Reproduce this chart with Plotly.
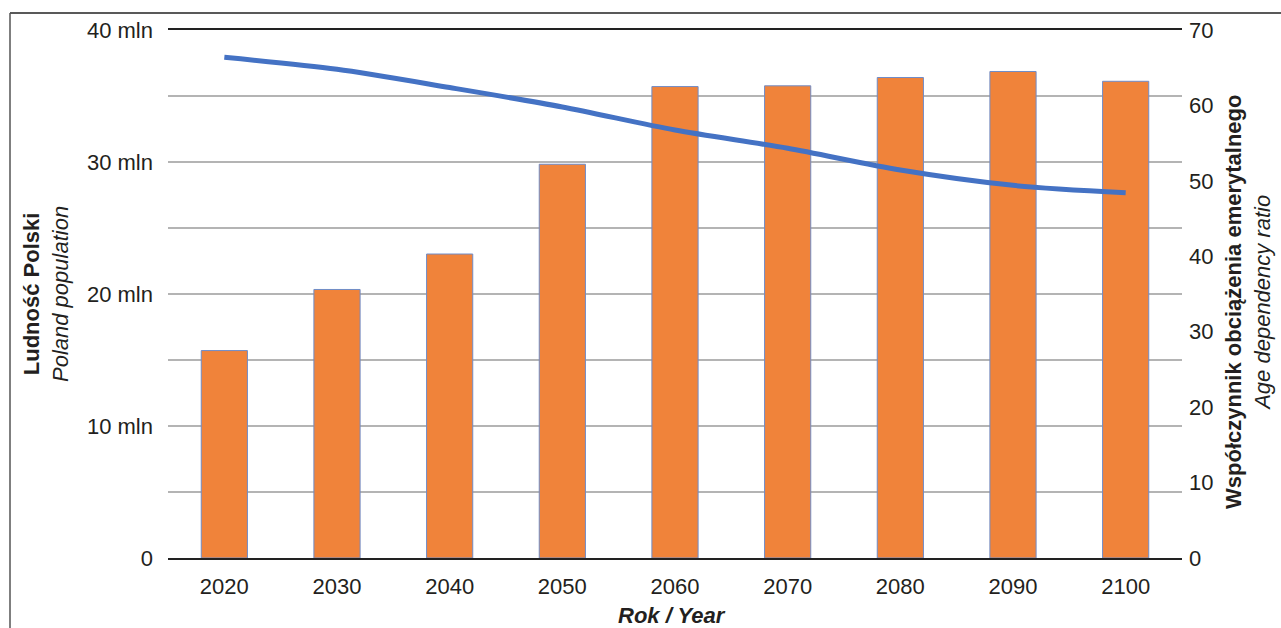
import plotly.graph_objects as go

years = ["2020", "2030", "2040", "2050", "2060", "2070", "2080", "2090", "2100"]
dependency_ratio = [27.5, 35.6, 40.3, 52.2, 62.5, 62.6, 63.7, 64.5, 63.2]
population_mln = [37.93, 37.02, 35.64, 34.17, 32.42, 31.04, 29.39, 28.23, 27.67]

left_tickvals = [0, 5, 10, 15, 20, 25, 30, 35, 40]
left_ticktext = ["0", "", "10 mln", "", "20 mln", "", "30 mln", "", "40 mln"]
right_tickvals = [0, 10, 20, 30, 40, 50, 60, 70]

FONT = "Liberation Sans, Arial, sans-serif"
TXT = "#231f20"
FS = 22

fig = go.Figure()
fig.add_trace(go.Bar(
    x=years, y=dependency_ratio, yaxis="y",
    marker=dict(color="#F0833A", line=dict(color="#6f8cc8", width=1)),
    width=0.41,
))
fig.add_trace(go.Scatter(
    x=years, y=population_mln, yaxis="y2", mode="lines",
    line=dict(color="#4472C4", width=5, shape="spline", smoothing=0.8),
))

L, R, T, B = 168, 99, 30, 70
W, H = 1281, 628
pw, ph = W - L - R, H - T - B
def px(x):
    return (x - L) / pw
def py(y):
    return (H - B - y) / ph

fig.update_layout(
    width=W, height=H,
    margin=dict(l=L, r=R, t=T, b=B),
    paper_bgcolor="white", plot_bgcolor="white",
    showlegend=False,
    font=dict(family=FONT, size=FS, color=TXT),
    bargap=0.59,
    xaxis=dict(
        type="category", showgrid=False, showline=True, mirror=True,
        linecolor="#222222", linewidth=1.5, ticks="", tickfont=dict(size=FS, color=TXT),
        ticklabelstandoff=8,
    ),
    yaxis=dict(
        side="right", range=[0, 70], tickvals=right_tickvals,
        showgrid=False, zeroline=False, showline=False, ticks="",
        tickfont=dict(size=FS, color=TXT), ticklabelstandoff=6,
    ),
    yaxis2=dict(
        side="left", overlaying="y", range=[0, 40], tickvals=left_tickvals,
        ticktext=left_ticktext, showgrid=True, gridcolor="#b4b4b4", gridwidth=1.5,
        zeroline=False, showline=False, ticks="",
        tickfont=dict(size=FS, color=TXT), ticklabelstandoff=14,
    ),
    annotations=[
        dict(text="<b>Ludność Polski</b><br><i>Poland population</i>",
             xref="paper", yref="paper", x=px(46), y=py(294), textangle=-90,
             showarrow=False, xanchor="center", yanchor="middle",
             font=dict(size=FS, color=TXT), align="center"),
        dict(text="<b>Współczynnik obciążenia emerytalnego</b><br><i>Age dependency ratio</i>",
             xref="paper", yref="paper", x=px(1248), y=py(302), textangle=-90,
             showarrow=False, xanchor="center", yanchor="middle",
             font=dict(size=FS, color=TXT), align="center"),
        dict(text="<b><i>Rok / Year</i></b>",
             xref="paper", yref="paper", x=px(672), y=py(615),
             showarrow=False, xanchor="center", yanchor="middle",
             font=dict(size=FS, color=TXT)),
    ],
    shapes=[
        dict(type="line", xref="paper", yref="paper", x0=px(10), x1=px(1281),
             y0=py(13), y1=py(13), line=dict(color="#222222", width=1.5)),
        dict(type="line", xref="paper", yref="paper", x0=px(10), x1=px(10),
             y0=py(13), y1=py(628), line=dict(color="#555555", width=1.5)),
    ],
)

fig.write_html("out.html")
